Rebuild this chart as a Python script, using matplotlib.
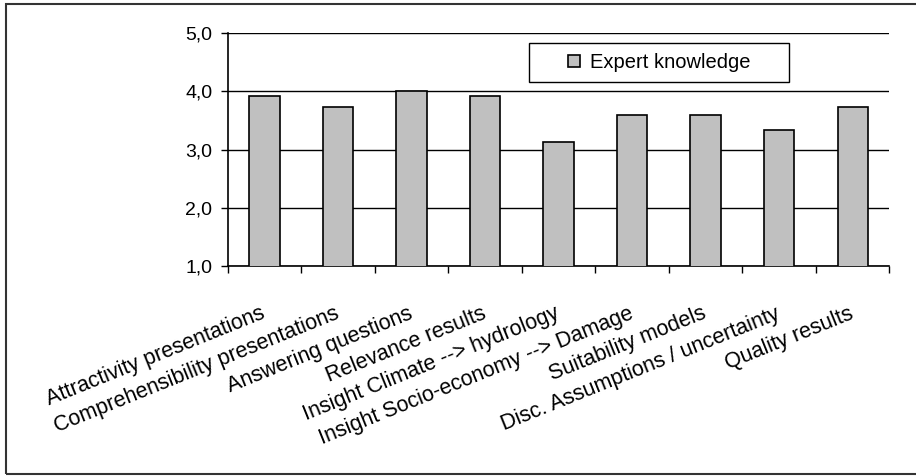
import numpy as np
import matplotlib.pyplot as plt
from matplotlib.patches import Rectangle
from matplotlib.ticker import FuncFormatter
from matplotlib.transforms import ScaledTranslation

categories = [
    "Attractivity presentations",
    "Comprehensibility presentations",
    "Answering questions",
    "Relevance results",
    "Insight Climate --> hydrology",
    "Insight Socio-economy --> Damage",
    "Suitability models",
    "Disc. Assumptions / uncertainty",
    "Quality results",
]
expert = [3.93, 3.73, 4.0, 3.93, 3.13, 3.6, 3.6, 3.33, 3.73]
series_name = "Expert knowledge"

plt.rcParams['font.family'] = ['Liberation Sans', 'DejaVu Sans']

fig = plt.figure(figsize=(9.16, 4.76), dpi=100)
ax = fig.add_axes([0.2486, 0.4418, 0.9709 - 0.2486, 0.9298 - 0.4418])

# outer chart frame
fig.patches.append(Rectangle((6 / 916, 2 / 476), 1.2, 1 - 6 / 476,
                             transform=fig.transFigure, fill=False,
                             edgecolor='#333333', linewidth=1.5))

x = np.arange(len(categories))
ax.bar(x, expert, width=0.41, color='#c0c0c0', edgecolor='black',
       linewidth=1.2, label=series_name, zorder=3)

ax.set_ylim(1, 5)
ax.set_xlim(-0.5, len(categories) - 0.5)
ax.set_yticks([1, 2, 3, 4, 5])
ax.yaxis.set_major_formatter(FuncFormatter(lambda v, p: f"{v:.1f}".replace('.', ',')))
ax.yaxis.grid(True, color='black', linewidth=1.0, zorder=0)

ax.set_xticks(x)
ax.set_xticklabels(categories, rotation=22, ha='right', va='center',
                   rotation_mode='anchor')
shift = ScaledTranslation(-6 / 100, 0, fig.dpi_scale_trans)
for lbl in ax.get_xticklabels():
    lbl.set_transform(lbl.get_transform() + shift)
ax.set_xticks(np.arange(-0.5, len(categories)), minor=True)
ax.tick_params(axis='x', which='major', length=0, pad=34, labelsize=15.5)
ax.tick_params(axis='x', which='minor', length=5, width=1, direction='out')
ax.tick_params(axis='y', length=5, width=1, direction='out', pad=6, labelsize=14)

for side in ('top', 'right'):
    ax.spines[side].set_visible(False)
for side in ('left', 'bottom'):
    ax.spines[side].set_linewidth(1.2)

# legend box drawn separately so the entry sits centred in a wide frame
box_x0, box_y0, box_w, box_h = 529 / 916, 1 - 82 / 476, 260 / 916, 39 / 476
ax.add_patch(Rectangle((box_x0, box_y0), box_w, box_h,
                       transform=fig.transFigure, facecolor='white',
                       edgecolor='black', linewidth=1.0, zorder=4,
                       clip_on=False))
leg = ax.legend(loc='center',
                bbox_to_anchor=(box_x0 + box_w / 2, box_y0 + box_h / 2),
                bbox_transform=fig.transFigure, borderaxespad=0,
                frameon=False, fontsize=14.5,
                handlelength=0.6, handleheight=0.6, handletextpad=0.5,
                borderpad=0)
leg.set_zorder(5)

fig.savefig('out.png', dpi=100)
